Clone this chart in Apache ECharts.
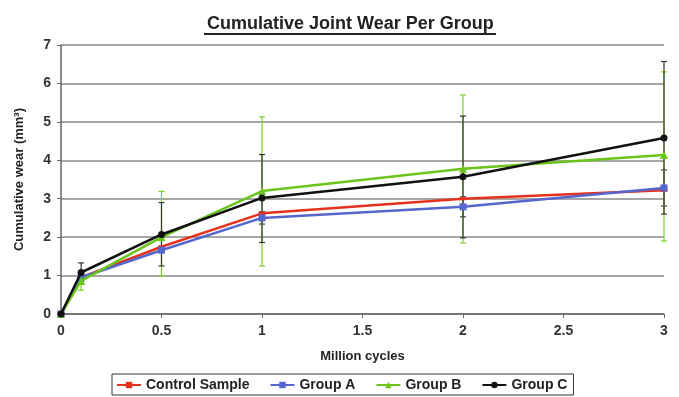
<!DOCTYPE html>
<html><head><meta charset="utf-8">
<script src="https://cdn.jsdelivr.net/npm/echarts@6/dist/echarts.min.js"></script>
<style>html,body{margin:0;padding:0;background:#fff}#c{width:679px;height:397px}</style>
</head><body><div id="c"></div>
<script>
const xCycles = [0, 0.1, 0.5, 1, 2, 3];
const seriesNames = ['Control Sample', 'Group A', 'Group B', 'Group C'];
const controlVals = [0, 0.95, 1.75, 2.62, 3.0, 3.22];
const groupAVals  = [0, 0.95, 1.66, 2.5, 2.79, 3.28];
const groupBVals  = [0, 0.86, 2.0, 3.2, 3.78, 4.14];
const groupCVals  = [0, 1.08, 2.07, 3.02, 3.57, 4.58];
// error bars: [x, low, high]
const controlErr = [];
const groupAErr = [[1, 2.34, 2.66], [2, 2.53, 3.05], [3, 2.81, 3.75]];
const groupBErr = [[0.1, 0.62, 1.1], [0.5, 0.99, 3.19], [1, 1.25, 5.13], [2, 1.85, 5.7], [3, 1.9, 6.3]];
const groupCErr = [[0.1, 0.85, 1.33], [0.5, 1.25, 2.9], [1, 1.86, 4.15], [2, 1.98, 5.15], [3, 2.6, 6.57]];
const yTicks = [0, 1, 2, 3, 4, 5, 6, 7];

const colors = ['#e5321c', '#5566cc', '#6cc41a', '#111111'];
const symbols = ['rect', 'rect', 'triangle', 'circle'];
const symSizes = [[7, 3], 7, 8, 7];
const vals = [controlVals, groupAVals, groupBVals, groupCVals];
const errs = [controlErr, groupAErr, groupBErr, groupCErr];
const errColors = ['#444', '#444', '#7ccf2a', '#333'];

const chart = echarts.init(document.getElementById('c'));
const series = [];
errs.forEach((e, i) => {
  series.push({
    type: 'custom', name: seriesNames[i] + ' err', z: 1,
    data: e,
    renderItem: function (params, api) {
      const x = api.value(0);
      const lo = api.coord([x, api.value(1)]);
      const hi = api.coord([x, api.value(2)]);
      const w = 3;
      const st = {stroke: errColors[i], lineWidth: 1.2};
      return {type: 'group', children: [
        {type: 'line', shape: {x1: lo[0], y1: lo[1], x2: hi[0], y2: hi[1]}, style: st},
        {type: 'line', shape: {x1: lo[0]-w, y1: lo[1], x2: lo[0]+w, y2: lo[1]}, style: st},
        {type: 'line', shape: {x1: hi[0]-w, y1: hi[1], x2: hi[0]+w, y2: hi[1]}, style: st}
      ]};
    },
    silent: true
  });
});
vals.forEach((v, i) => {
  series.push({
    type: 'line', name: seriesNames[i], z: 3 + i,
    data: xCycles.map((x, k) => [x, v[k]]),
    symbol: symbols[i], symbolSize: symSizes[i], showSymbol: true,
    lineStyle: {color: colors[i], width: 2.5},
    itemStyle: {color: colors[i]},
    animation: false
  });
});

chart.setOption({
  animation: false,
  backgroundColor: '#fff',
  textStyle: {fontFamily: 'Liberation Sans, Arial, sans-serif'},
  title: {
    text: 'Cumulative Joint Wear Per Group', left: 202, top: 10,
    textStyle: {fontSize: 18, fontWeight: 'bold', color: '#222', fontFamily: 'Liberation Sans, Arial, sans-serif'}
  },
  graphic: [{type: 'line', shape: {x1: 204, y1: 34, x2: 496, y2: 34}, style: {stroke: '#222', lineWidth: 2}}],
  grid: {left: 61, right: 15, top: 45, bottom: 83},
  legend: {
    data: seriesNames, left: 112, bottom: 2,
    borderColor: '#333', borderWidth: 1, padding: [4, 6, 3, 4], itemGap: 20,
    itemWidth: 24, itemHeight: 8,
    textStyle: {fontSize: 14, fontWeight: 'bold', color: '#222', fontFamily: 'Liberation Sans, Arial, sans-serif'}
  },
  xAxis: {
    type: 'value', min: 0, max: 3, interval: 0.5,
    name: 'Million cycles', nameLocation: 'middle', nameGap: 36,
    nameTextStyle: {fontSize: 13, fontWeight: 'bold', color: '#222'},
    axisLine: {lineStyle: {color: '#666', width: 1.5}},
    axisTick: {show: true, length: 4, lineStyle: {color: '#666'}},
    axisLabel: {fontSize: 14, fontWeight: 'bold', color: '#333', margin: 10},
    splitLine: {show: false}
  },
  yAxis: {
    type: 'value', min: yTicks[0], max: yTicks[yTicks.length - 1], interval: 1,
    name: 'Cumulative wear (mm³)', nameLocation: 'middle', nameGap: 35, nameRotate: 90,
    nameTextStyle: {fontSize: 13, fontWeight: 'bold', color: '#222'},
    axisLine: {show: true, lineStyle: {color: '#666', width: 1.5}},
    axisTick: {show: true, length: 4, lineStyle: {color: '#666'}},
    axisLabel: {fontSize: 14, fontWeight: 'bold', color: '#333', margin: 10},
    splitLine: {lineStyle: {color: '#888', width: 1.5}}
  },
  series: series
});
</script></body></html>
